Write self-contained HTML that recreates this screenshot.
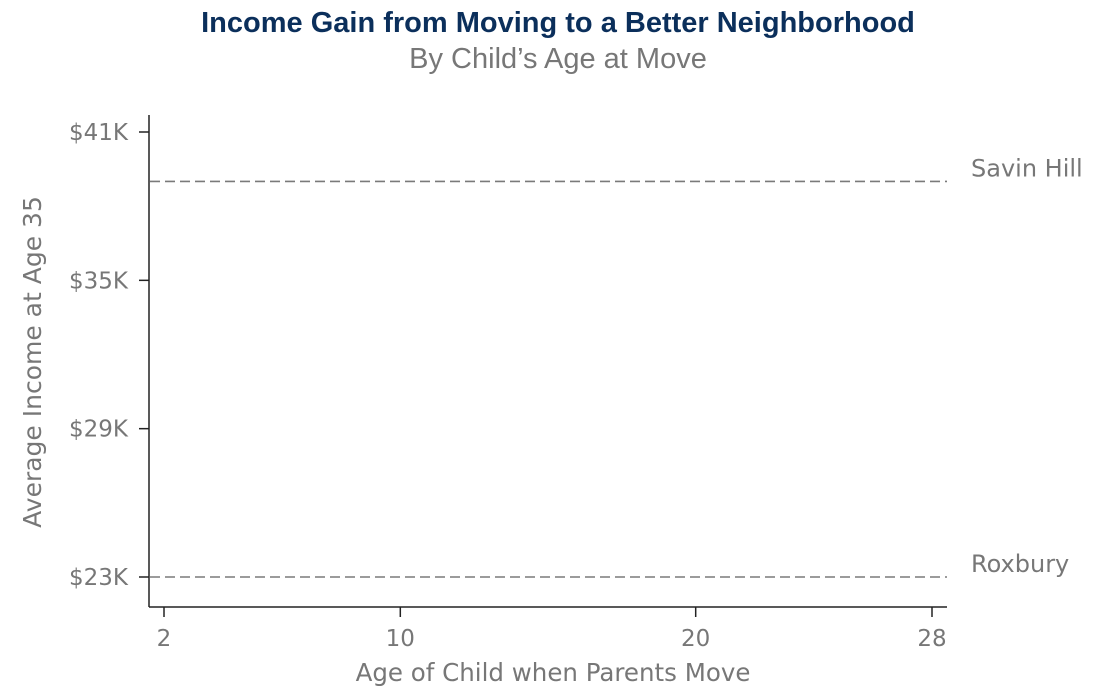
<!DOCTYPE html>
<html><head><meta charset="utf-8"><style>
body{margin:0;background:#fff;width:1114px;height:694px;overflow:hidden}
svg text{font-family:"DejaVu Sans","Liberation Sans",sans-serif}
</style></head><body>
<svg id="chart" width="1114" height="694" xmlns="http://www.w3.org/2000/svg">
<text x="558" y="32" text-anchor="middle" style="font-family:'Liberation Sans',sans-serif;font-weight:bold;font-size:29px" fill="#0b2f5b">Income Gain from Moving to a Better Neighborhood</text>
<text x="558" y="68" text-anchor="middle" style="font-family:'Liberation Sans',sans-serif;font-size:29px" fill="#777">By Child’s Age at Move</text>
<line x1="149" y1="115" x2="149" y2="607" stroke="#222" stroke-width="1.5"/>
<line x1="149" y1="607" x2="947" y2="607" stroke="#222" stroke-width="1.5"/>
<text transform="translate(41,362) rotate(-90)" text-anchor="middle" font-size="25" fill="#777">Average Income at Age 35</text>
<text x="553" y="681" text-anchor="middle" font-size="24.5" fill="#777">Age of Child when Parents Move</text>
<g id="yticks"></g><g id="xticks"></g><g id="series"></g>
</svg>
<script>
const yTicks=[23,29,35,41];
const yTickLabels=["$23K","$29K","$35K","$41K"];
const xTicks=[2,10,20,28];
const neighborhoods=["Savin Hill","Roxbury"];
const incomes=[39,23];
const ns="http://www.w3.org/2000/svg";
const y=v=>577-(v-23)*(445/18);
const x=v=>164+(v-2)*(768/26);
function mk(t,a,p){const e=document.createElementNS(ns,t);for(const k in a)e.setAttribute(k,a[k]);p.appendChild(e);return e;}
const yg=document.getElementById('yticks');
yTicks.forEach((v,i)=>{
 const l=mk('line',{x1:139,x2:149,y1:y(v),y2:y(v),stroke:'#222','stroke-width':1.5},yg);
 
 
 const t=mk('text',{x:128,y:y(v)+8,'text-anchor':'end','font-size':23,fill:'#777'},yg);
 t.textContent=yTickLabels[i];
 
 
});
const xg=document.getElementById('xticks');
xTicks.forEach(v=>{
 const l=mk('line',{x1:x(v),x2:x(v),y1:607,y2:617,stroke:'#222','stroke-width':1.5},xg);
 
 
 const t=mk('text',{x:x(v),y:646,'text-anchor':'middle','font-size':23,fill:'#777'},xg);
 t.textContent=v;
 
 
});
const sg=document.getElementById('series');
neighborhoods.forEach((n,i)=>{
 const l=mk('line',{x1:150,x2:947,y1:y(incomes[i]),y2:y(incomes[i]),stroke:'#7a7a7a','stroke-width':1.6,'stroke-dasharray':'10,5'},sg);
 
 
 const t=mk('text',{x:971,y:y(incomes[i])-5,'font-size':24,fill:'#777'},sg);
 t.textContent=n;
 
 
});
</script>
</body></html>
